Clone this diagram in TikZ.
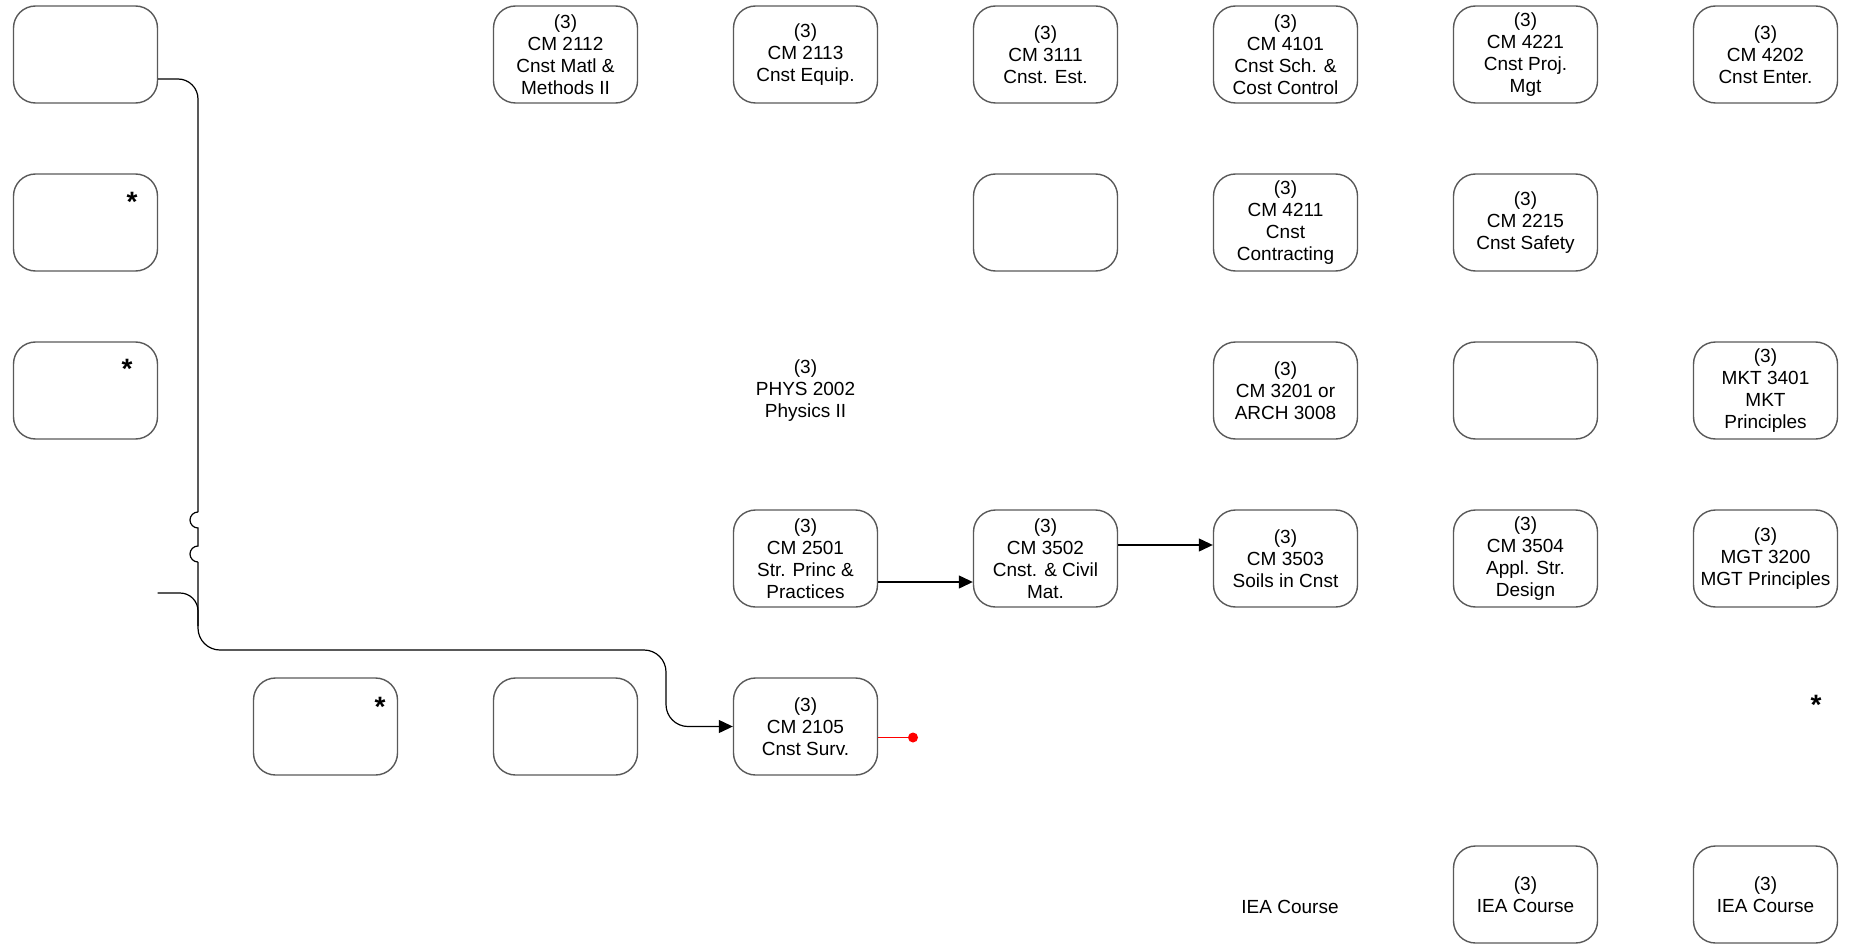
\documentclass[tikz,border=0pt]{standalone}
\usepackage{fontspec}
\setmainfont{Liberation Sans}
\usetikzlibrary{arrows.meta}
\tikzset{
	course/.style={draw=black!65, line width=1.4pt, rounded corners=22pt, minimum width=144pt, minimum height=97pt, inner sep=0pt, align=center, font=\fontsize{19}{22}\selectfont},
	plain/.style={inner sep=0pt, align=center, font=\fontsize{19}{22}\selectfont},
	star/.style={inner sep=0pt, anchor=north, font=\fontsize{28}{28}\selectfont\bfseries},
	link/.style={line width=1.2pt, black},
	arrow/.style={link, -{Triangle[length=14pt,width=13pt]}},
}
\begin{document}
\begin{tikzpicture}[x=1pt, y=-1pt]
		\def\dx{240}
		\def\dy{168}
		\def\xo{85.5}
		\def\yo{54.5}
		\def\busx{198}
		\useasboundingbox (0,0) rectangle (1849,944);
		% first row
		\node[course] (c00) at (\xo, \yo) {};
		\node[course] (cm2112) at (\xo+2*\dx, \yo) {(3)\\CM 2112\\Cnst Matl \&\\Methods II};
		\node[course] (cm2113) at (\xo+3*\dx, \yo) {(3)\\CM 2113\\Cnst Equip.};
		\node[course] (cm3111) at (\xo+4*\dx, \yo) {(3)\\CM 3111\\Cnst. Est.};
		\node[course] (cm4101) at (\xo+5*\dx, \yo) {(3)\\CM 4101\\Cnst Sch. \&\\Cost Control};
		\node[course] (cm4221) at (\xo+6*\dx, \yo) {(3)\\CM 4221\\Cnst Proj.\\Mgt};
		\node[course] (cm4202) at (\xo+7*\dx, \yo) {(3)\\CM 4202\\Cnst Enter.};
		% second row
		\node[course] (c01) at (\xo, \yo+\dy) {};
		\node[course] (c41) at (\xo+4*\dx, \yo+\dy) {};
		\node[course] (cm4211) at (\xo+5*\dx, \yo+\dy) {(3)\\CM 4211\\Cnst\\Contracting};
		\node[course] (cm2215) at (\xo+6*\dx, \yo+\dy) {(3)\\CM 2215\\Cnst Safety};
		% third row
		\node[course] (c02) at (\xo, \yo+2*\dy) {};
		\node[plain] (phys) at (\xo+3*\dx, \yo+2*\dy) {(3)\\PHYS 2002\\Physics II};
		\node[course] (cm3201) at (\xo+5*\dx, \yo+2*\dy) {(3)\\CM 3201 or\\ARCH 3008};
		\node[course] (c62) at (\xo+6*\dx, \yo+2*\dy) {};
		\node[course] (mkt3401) at (\xo+7*\dx, \yo+2*\dy) {(3)\\MKT 3401\\MKT\\Principles};
		% fourth row
		\node[course] (cm2501) at (\xo+3*\dx, \yo+3*\dy) {(3)\\CM 2501\\Str. Princ \&\\Practices};
		\node[course] (cm3502) at (\xo+4*\dx, \yo+3*\dy) {(3)\\CM 3502\\Cnst. \& Civil\\Mat.};
		\node[course] (cm3503) at (\xo+5*\dx, \yo+3*\dy) {(3)\\CM 3503\\Soils in Cnst};
		\node[course] (cm3504) at (\xo+6*\dx, \yo+3*\dy) {(3)\\CM 3504\\Appl. Str.\\Design};
		\node[course] (mgt3200) at (\xo+7*\dx, \yo+3*\dy) {(3)\\MGT 3200\\MGT Principles};
		% fifth row
		\node[course] (c14) at (\xo+\dx, \yo+4*\dy) {};
		\node[course] (c24) at (\xo+2*\dx, \yo+4*\dy) {};
		\node[course] (cm2105) at (\xo+3*\dx, \yo+4*\dy) {(3)\\CM 2105\\Cnst Surv.};
		% last row
		\node[plain] (iea) at (1290, 907) {IEA Course};
		\node[course] (iea6) at (\xo+6*\dx, \yo+5*\dy) {(3)\\IEA Course};
		\node[course] (iea7) at (\xo+7*\dx, \yo+5*\dy) {(3)\\IEA Course};
		% stars
		\node[star] (s01) at (132, 192) {*};
		\node[star] (s02) at (127, 359) {*};
		\node[star] (s14) at (380, 697) {*};
		\node[star] (s74) at (1816, 695) {*};
		% prerequisite lines
		\coordinate (feed) at (\xo+72, 593);
		\draw[link, rounded corners=20pt] ([yshift=-24.5pt]c00.east) -| (\busx, 512);
		\draw[link] (\busx, 512) arc[start angle=90, end angle=270, radius=8pt] -- (\busx, 546)
			arc[start angle=90, end angle=270, radius=8pt];
		\draw[link, rounded corners=18pt] (feed) -| (\busx, 626);
		\draw[arrow, rounded corners=22pt] (\busx, 562) |- (666, 650) |- (cm2105.west);
		\draw[arrow] ([yshift=-23.5pt]cm2501.east) -- ([yshift=-23.5pt]cm3502.west);
		\draw[arrow] ([yshift=13.5pt]cm3502.east) -- ([yshift=13.5pt]cm3503.west);
		\coordinate (dot) at (913, 737.5);
		\draw[red, line width=1pt] ([yshift=-11pt]cm2105.east) -- (dot);
		\fill[red] (dot) circle (5pt);
	\end{tikzpicture}
\end{document}
